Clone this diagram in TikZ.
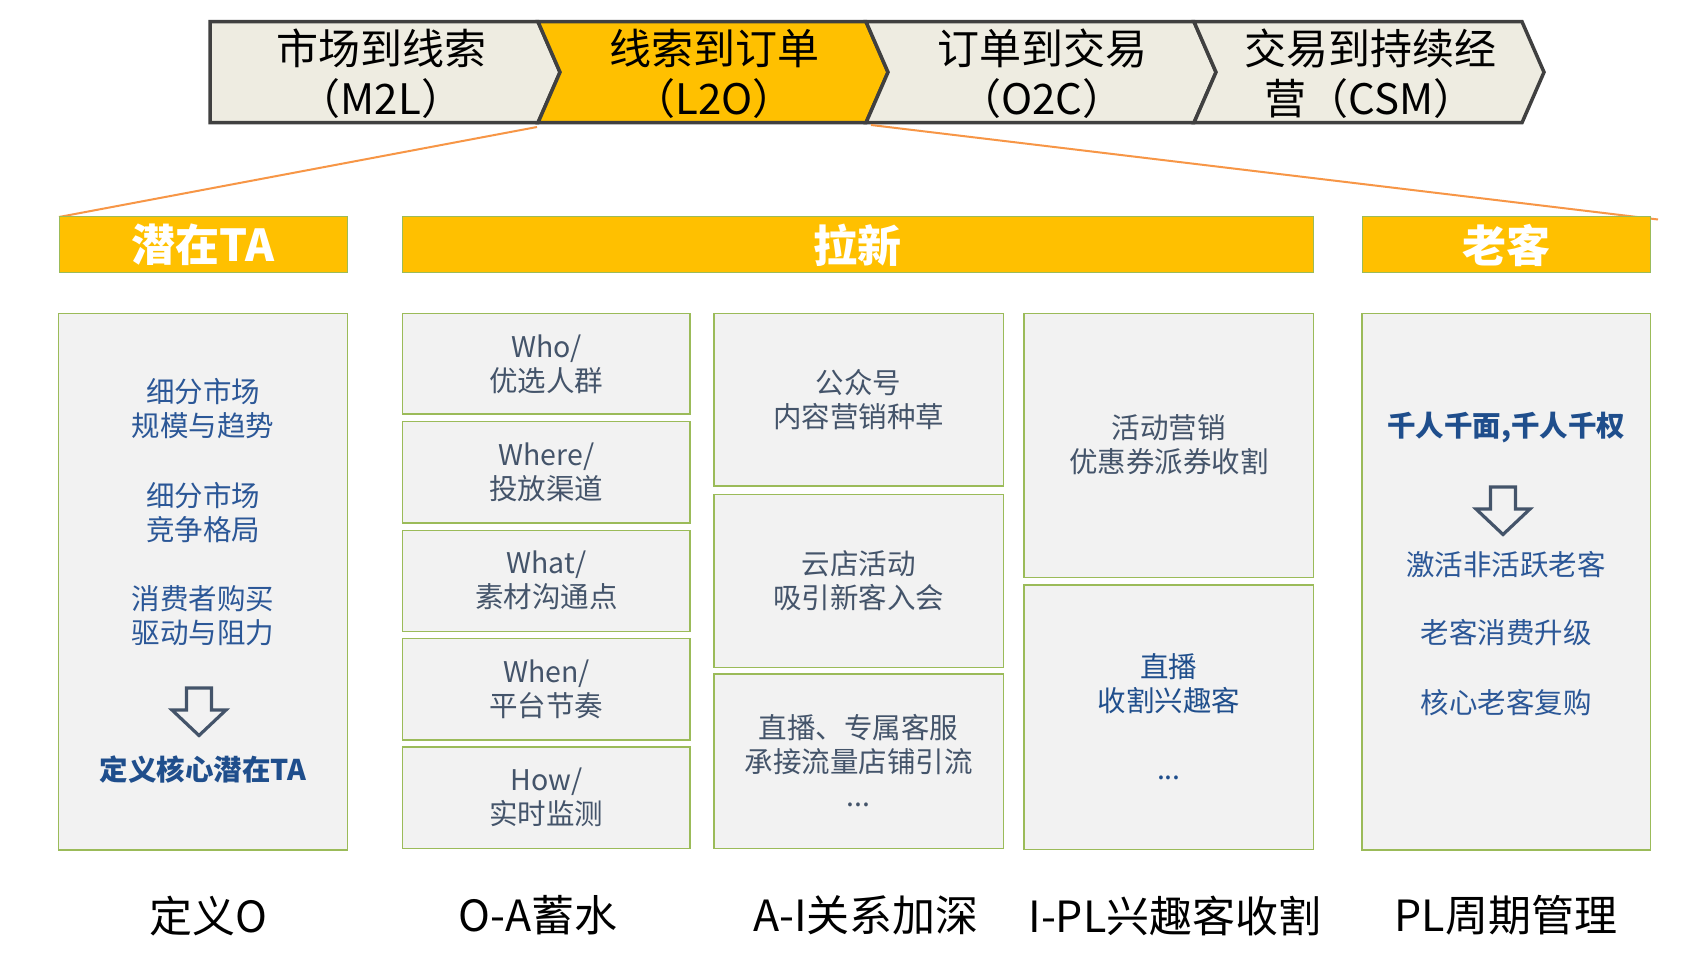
\documentclass[tikz,border=0pt]{standalone}
\usepackage{fontspec}
\setmainfont{Noto Sans CJK SC}
\definecolor{beige}{HTML}{EEECE1}
\definecolor{gold}{HTML}{FFC000}
\definecolor{bord}{HTML}{404040}
\definecolor{boxfill}{HTML}{F2F2F2}
\definecolor{boxline}{HTML}{9BBB59}
\definecolor{orng}{HTML}{F79646}
\definecolor{slate}{HTML}{44546A}
\definecolor{blu}{HTML}{2B5797}
\definecolor{dblu}{HTML}{1F4E8C}
\tikzset{
  segline/.style={draw=bord, line width=1.75pt, line join=miter},
  segtext/.style={font=\fontsize{21}{25.3}\selectfont, align=center, text=black, inner sep=0pt},
  hdrbox/.style={fill=gold, draw=boxline, line width=0.5pt},
  hdrtext/.style={font=\fontsize{22}{26}\selectfont\bfseries, text=white, inner sep=0pt},
  cbox/.style={fill=boxfill, draw=boxline, line width=0.75pt},
  ctext/.style={font=\fontsize{14.25}{17}\selectfont, align=center, inner sep=0pt},
  boldtext/.style={font=\fontsize{14.25}{17}\selectfont\bfseries, text=dblu, inner sep=0pt},
  btext/.style={font=\fontsize{21.5}{26}\selectfont, text=black, inner sep=0pt},
  orangeline/.style={draw=orng, line width=1pt},
  arrowline/.style={draw=slate, line width=1.6pt, line join=miter},
  downarrow/.pic={\draw[arrowline] (-12.5,0) -- (12.5,0) -- (12.5,22) -- (27,22) -- (0,47.5) -- (-27,22) -- (-12.5,22) -- cycle;}
}
\begin{document}
\begin{tikzpicture}[x=0.5pt,y=-0.5pt]
\useasboundingbox[fill=white] (0,0) rectangle (1687,973);

% ---- top process bar ----
\path[segline, fill=beige] (210,21.7) -- (538,21.7) -- (560,72.2) -- (538,122.7) -- (210,122.7) -- cycle;
\path[segline, fill=gold] (538,21.7) -- (866,21.7) -- (888,72.2) -- (866,122.7) -- (538,122.7) -- (560,72.2) -- cycle;
\path[segline, fill=beige] (866,21.7) -- (1194,21.7) -- (1216,72.2) -- (1194,122.7) -- (866,122.7) -- (888,72.2) -- cycle;
\path[segline, fill=beige] (1194,21.7) -- (1522,21.7) -- (1544,72.2) -- (1522,122.7) -- (1194,122.7) -- (1216,72.2) -- cycle;

\node[segtext] (s1) at (381,73.7) {市场到线索\\（M2L）};
\node[segtext] (s2) at (714,73.7) {线索到订单\\（L2O）};
\node[segtext] (s3) at (1042,73.7) {订单到交易\\（O2C）};
\node[segtext] (s4) at (1370,73.7) {交易到持续经\\营（CSM）};

% ---- orange zoom lines ----
\coordinate (zl) at (537,127);
\coordinate (zr) at (871,125);
\coordinate (hl) at (59,217);
\coordinate (hr) at (1658,219.5);
\draw[orangeline] (zl) -- (hl);
\draw[orangeline] (zr) -- (hr);

% ---- header boxes ----
\draw[hdrbox] (59,217) rectangle (347.6,272.6);
\draw[hdrbox] (402,217) rectangle (1313,272.6);
\draw[hdrbox] (1362,217) rectangle (1650,272.6);
\node[hdrtext] (h1) at (203.3,245) {潜在TA};
\node[hdrtext] (h2) at (857.5,245) {拉新};
\node[hdrtext] (h3) at (1506,245) {老客};

% ---- column 1 ----
\draw[cbox] (58.3,313.7) rectangle (347.6,850.2);
\node[ctext, text=blu] (c1a) at (203,409) {细分市场\\规模与趋势};
\node[ctext, text=blu] (c1b) at (203,513) {细分市场\\竞争格局};
\node[ctext, text=blu] (c1c) at (203,616) {消费者购买\\驱动与阻力};
\pic at (199,688) {downarrow};
\node[boldtext] (c1d) at (203,770) {定义核心潜在TA};

% ---- column 2 ----
\draw[cbox] (402.7,313.7) rectangle (690.1,414);
\draw[cbox] (402.7,421.6) rectangle (690.1,523);
\draw[cbox] (402.7,530.7) rectangle (690.1,631.3);
\draw[cbox] (402.7,638.6) rectangle (690.1,740);
\draw[cbox] (402.7,746.9) rectangle (690.1,848.3);
\node[ctext, text=slate] (c2a) at (546.4,364) {Who/\\优选人群};
\node[ctext, text=slate] (c2b) at (546.4,472) {Where/\\投放渠道};
\node[ctext, text=slate] (c2c) at (546.4,580.5) {What/\\素材沟通点};
\node[ctext, text=slate] (c2d) at (546.4,689) {When/\\平台节奏};
\node[ctext, text=slate] (c2e) at (546.4,797.5) {How/\\实时监测};

% ---- column 3 ----
\draw[cbox] (713.8,313.7) rectangle (1003.3,485.9);
\draw[cbox] (713.8,494.3) rectangle (1003.3,667.3);
\draw[cbox] (713.8,674.2) rectangle (1003.3,848.3);
\node[ctext, text=slate] (c3a) at (858.5,400) {公众号\\内容营销种草};
\node[ctext, text=slate] (c3b) at (858.5,581) {云店活动\\吸引新客入会};
\node[ctext, text=slate] (c3c) at (858.5,761) {直播、专属客服\\承接流量店铺引流\\...};

% ---- column 4 ----
\draw[cbox] (1024.1,313.7) rectangle (1313.6,577.4);
\draw[cbox] (1024.1,585) rectangle (1313.6,849.5);
\node[ctext, text=slate] (c4a) at (1168.9,445) {活动营销\\优惠券派券收割};
\node[ctext, text=dblu] (c4b) at (1168.9,717) {直播\\收割兴趣客\\[17pt]...};

% ---- column 5 ----
\draw[cbox] (1362,313.7) rectangle (1650.3,850.2);
\node[boldtext] (c5a) at (1506,427.3) {千人千面,千人千权};
\pic at (1503,487) {downarrow};
\node[ctext, text=blu] (c5b) at (1506,565) {激活非活跃老客};
\node[ctext, text=blu] (c5c) at (1506,633) {老客消费升级};
\node[ctext, text=blu] (c5d) at (1506,702.5) {核心老客复购};

% ---- bottom labels ----
\node[btext] (b1) at (208.7,915.6) {定义O};
\node[btext] (b2) at (538,915.6) {O-A蓄水};
\node[btext] (b3) at (866,915.6) {A-I关系加深};
\node[btext] (b4) at (1175,915.6) {I-PL兴趣客收割};
\node[btext] (b5) at (1506,915.6) {PL周期管理};
\end{tikzpicture}
\end{document}
